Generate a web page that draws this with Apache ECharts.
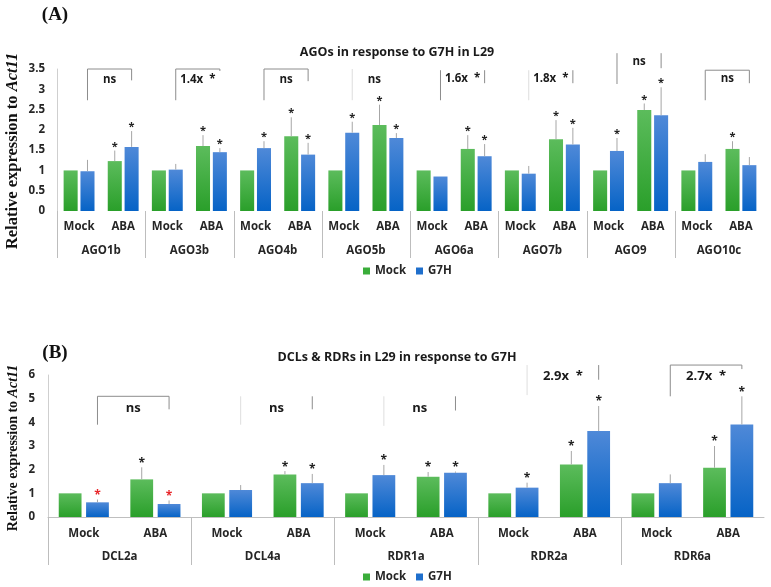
<!DOCTYPE html>
<html><head><meta charset="utf-8">
<script src="https://cdn.jsdelivr.net/npm/echarts@6/dist/echarts.min.js"></script>
<style>html,body{margin:0;padding:0;background:#fff}#c{width:771px;height:587px}</style>
</head><body><div id="c"></div>
<script>
// ---------- data ----------
const treatments = ['Mock', 'ABA'];
const genesA = ['AGO1b','AGO3b','AGO4b','AGO5b','AGO6a','AGO7b','AGO9','AGO10c'];
const mockA    = [1.00,1.23, 1.00,1.60, 1.00,1.84, 1.00,2.12, 1.00,1.53, 1.00,1.77, 1.00,2.49, 1.00,1.53];
const g7hA     = [0.98,1.58, 1.02,1.45, 1.55,1.39, 1.93,1.80, 0.85,1.35, 0.92,1.64, 1.48,2.36, 1.21,1.13];
const mockErrTopA = [1.00,1.49, 1.00,1.87, 1.00,2.31, 1.00,2.62, 1.00,1.87, 1.00,2.24, 1.00,2.65, 1.00,1.72];
const g7hErrTopA  = [1.26,1.97, 1.16,1.55, 1.72,1.68, 2.20,1.92, 0.85,1.65, 1.11,2.05, 1.80,3.05, 1.40,1.33];
const mockStarA = [0,1, 0,1, 0,1, 0,1, 0,1, 0,1, 0,1, 0,1];
const g7hStarA  = [0,1, 0,1, 1,1, 1,1, 0,1, 0,1, 1,1, 0,0];
// brackets: [startCat, endCat, top, leftLegBottom, rightLegBottom, hasTopLine, labelY]
const bracketsA = [
  [0,1, 3.50, 2.73, 3.22, 1, 3.23],
  [2,3, 3.50, 2.73, 3.45, 1, 3.23],
  [4,5, 3.50, 2.73, 3.20, 1, 3.23],
  [6,7, 3.50, 2.73, 3.50, 0, 3.23],
  [8,9, 3.47, 2.73, 3.15, 0, 3.25],
  [10,11, 3.47, 2.73, 3.15, 0, 3.25],
  [12,13, 3.89, 3.13, 3.52, 0, 3.67],
  [14,15, 3.47, 2.73, 3.15, 1, 3.25]
];
const bracketLabelsA = ['ns','1.4x  *','ns','ns','1.6x  *','1.8x  *','ns','ns'];

const genesB = ['DCL2a','DCL4a','RDR1a','RDR2a','RDR6a'];
const mockB    = [1.00,1.59, 1.00,1.80, 1.00,1.70, 1.00,2.22, 1.00,2.08];
const g7hB     = [0.62,0.55, 1.14,1.43, 1.77,1.87, 1.24,3.63, 1.43,3.91];
const mockErrTopB = [1.00,2.10, 1.00,1.94, 1.00,1.90, 1.00,2.79, 1.00,3.00];
const g7hErrTopB  = [0.74,0.70, 1.35,1.82, 2.20,1.92, 1.45,4.69, 1.80,5.10];
const mockStarB = [0,1, 0,1, 0,1, 0,1, 0,1];
const g7hStarB  = [2,2, 0,1, 1,1, 1,1, 0,1];   // 2 = red star
const bracketsB = [
  [0,1, 5.10, 3.90, 4.55, 1, 4.60],
  [2,3, 5.10, 3.90, 4.55, 0, 4.60],
  [4,5, 5.10, 3.85, 4.50, 0, 4.60],
  [6,7, 6.42, 5.15, 5.80, 0, 5.96],
  [8,9, 6.42, 5.10, 6.25, 1, 5.96]
];
const bracketLabelsB = ['ns','ns','ns','2.9x  *','2.7x  *'];

// ---------- styling helpers ----------
const SANS = 'Open Sans';
const SERIF = 'Liberation Serif';
const faintLegA = {3:true, 5:true};
const faintLegB = {1:true, 2:true, 3:true};
const greenGrad = {type:'linear',x:0,y:0,x2:0,y2:1,colorStops:[{offset:0,color:'#5cbc5c'},{offset:1,color:'#2a9f2a'}]};
const blueGrad  = {type:'linear',x:0,y:0,x2:0,y2:1,colorStops:[{offset:0,color:'#4f89d8'},{offset:1,color:'#0663c6'}]};

function cats(genes){ const out=[]; genes.forEach(()=>treatments.forEach(t=>out.push(t))); return out; }
function barOff(api, side){ const B = api.size([1,0])[0]; const w = 0.7*B/2.2; return side*0.6*w; }

function errData(vals, tops, stars, side){
  return vals.map((v,i)=>[i, v, tops[i], stars[i], side]);
}
function errRender(starSize){
  return function(params, api){
    const idx = api.value(0), v = api.value(1), t = api.value(2), st = api.value(3), side = api.value(4);
    const p0 = api.coord([idx, v]), p1 = api.coord([idx, t]);
    const x = p0[0] + barOff(api, side);
    const ch = [];
    if (t > v + 1e-6) ch.push({type:'line', shape:{x1:x,y1:p0[1],x2:x,y2:p1[1]}, style:{stroke:'#a6a6a6', lineWidth:1}});
    if (st) ch.push({type:'text', x:x, y:p1[1]-4, style:{text:'*', fill: st===2?'#e8262a':'#222', font:'bold '+starSize+'px '+SANS, align:'center', verticalAlign:'middle'}});
    return {type:'group', children:ch};
  };
}
function bracketRender(labels, faint, fontSize){
  return function(params, api){
    const s = api.value(0), e = api.value(1), top = api.value(2), lb = api.value(3), rb = api.value(4), tl = api.value(5), ly = api.value(6);
    const xs = api.coord([s, top])[0] + barOff(api, 1);
    const xe = api.coord([e, top])[0] + barOff(api, 1);
    const yT = api.coord([s, top])[1], yL = api.coord([s, lb])[1], yR = api.coord([s, rb])[1], yLab = api.coord([s, ly])[1];
    const dark = '#8c8c8c', light = '#dedede';
    const ch = [];
    ch.push({type:'line', shape:{x1:xs,y1:yT,x2:xs,y2:yL}, style:{stroke: faint[params.dataIndex]?light:dark, lineWidth:1}});
    if (tl) ch.push({type:'line', shape:{x1:xs,y1:yT,x2:xe,y2:yT}, style:{stroke:dark, lineWidth:1}});
    if (yR > yT + 0.5) ch.push({type:'line', shape:{x1:xe,y1:yT,x2:xe,y2:yR}, style:{stroke:dark, lineWidth:1}});
    ch.push({type:'text', x:(xs+xe)/2, y:yLab, style:{text:labels[params.dataIndex], fill:'#1a1a1a', font:'bold '+fontSize+'px '+SANS, align:'center', verticalAlign:'middle'}});
    return {type:'group', children:ch};
  };
}
// gene separators: a line at the left boundary of each gene group, running below the axis
function sepRender(len){
  return function(params, api){
    const B = api.size([1,0])[0];
    const p = api.coord([api.value(0), 0]);
    const x = Math.round(p[0] - B/2) + 0.5;
    return {type:'line', shape:{x1:x, y1:p[1], x2:x, y2:p[1]+len}, style:{stroke:'#bdbdbd', lineWidth:1}};
  };
}

const lblFont = {fontFamily:SANS, fontWeight:'bold', fontSize:11.5, color:'#262626'};

const chart = echarts.init(document.getElementById('c'), null, {renderer:'canvas'});
chart.setOption({
  animation:false,
  backgroundColor:'#fff',
  grid:[
    {left:57, right:8, top:69, height:142},
    {left:48, right:7, top:375, height:142}
  ],
  xAxis:[
    {gridIndex:0, type:'category', data:cats(genesA), axisLine:{show:false}, axisTick:{show:false},
     axisLabel:Object.assign({interval:0, margin:10}, lblFont)},
    {gridIndex:0, type:'category', data:genesA, position:'bottom', axisLine:{show:false},
     axisTick:{show:false}, axisLabel:Object.assign({interval:0, margin:34}, lblFont)},
    {gridIndex:1, type:'category', data:cats(genesB), axisLine:{show:true, lineStyle:{color:'#bfbfbf'}}, axisTick:{show:false},
     axisLabel:Object.assign({interval:0, margin:11}, lblFont)},
    {gridIndex:1, type:'category', data:genesB, position:'bottom', axisLine:{show:false},
     axisTick:{show:false}, axisLabel:Object.assign({interval:0, margin:34}, lblFont)}
  ],
  yAxis:[
    {gridIndex:0, type:'value', min:0, max:3.5, interval:0.5, axisLine:{show:true, lineStyle:{color:'#cfcfcf'}},
     axisTick:{show:false}, splitLine:{show:false}, axisLabel:Object.assign({margin:12}, lblFont)},
    {gridIndex:1, type:'value', min:0, max:6, interval:1, axisLine:{show:true, lineStyle:{color:'#cfcfcf'}},
     axisTick:{show:false}, splitLine:{show:false}, axisLabel:Object.assign({margin:13}, lblFont)}
  ],
  legend:[
    {left:358, top:260, itemWidth:7, itemHeight:7, itemGap:10, icon:'rect', textStyle:lblFont,
     data:[{name:'Mock', itemStyle:{color:'#3aad3a'}},{name:'G7H', itemStyle:{color:'#1f6fcc'}}]},
    {left:358, top:566, itemWidth:7, itemHeight:7, itemGap:10, icon:'rect', textStyle:lblFont,
     data:[{name:'Mock', itemStyle:{color:'#3aad3a'}},{name:'G7H', itemStyle:{color:'#1f6fcc'}}]}
  ],
  series:[
    {name:'Mock', type:'bar', xAxisIndex:0, yAxisIndex:0, data:mockA, barCategoryGap:'30%', barGap:'20%', itemStyle:{color:greenGrad}, silent:true},
    {name:'G7H', type:'bar', xAxisIndex:0, yAxisIndex:0, data:g7hA, barCategoryGap:'30%', barGap:'20%', itemStyle:{color:blueGrad}, silent:true},
    {type:'custom', xAxisIndex:0, yAxisIndex:0, data:errData(mockA, mockErrTopA, mockStarA, -1), renderItem:errRender(11), silent:true, z:5},
    {type:'custom', xAxisIndex:0, yAxisIndex:0, data:errData(g7hA, g7hErrTopA, g7hStarA, 1), renderItem:errRender(11), silent:true, z:5},
    {type:'custom', xAxisIndex:0, yAxisIndex:0, data:bracketsA, renderItem:bracketRender(bracketLabelsA, faintLegA, 11.5), silent:true, z:5, clip:false},
    {type:'custom', xAxisIndex:0, yAxisIndex:0, data:genesA.map((g,i)=>[2*i]), renderItem:sepRender(47), silent:true, clip:false},

    {name:'Mock', type:'bar', xAxisIndex:2, yAxisIndex:1, data:mockB, barCategoryGap:'30%', barGap:'20%', itemStyle:{color:greenGrad}, silent:true},
    {name:'G7H', type:'bar', xAxisIndex:2, yAxisIndex:1, data:g7hB, barCategoryGap:'30%', barGap:'20%', itemStyle:{color:blueGrad}, silent:true},
    {type:'custom', xAxisIndex:2, yAxisIndex:1, data:errData(mockB, mockErrTopB, mockStarB, -1), renderItem:errRender(12), silent:true, z:5},
    {type:'custom', xAxisIndex:2, yAxisIndex:1, data:errData(g7hB, g7hErrTopB, g7hStarB, 1), renderItem:errRender(12), silent:true, z:5},
    {type:'custom', xAxisIndex:2, yAxisIndex:1, data:bracketsB, renderItem:bracketRender(bracketLabelsB, faintLegB, 13), silent:true, z:5, clip:false},
    {type:'custom', xAxisIndex:2, yAxisIndex:1, data:genesB.map((g,i)=>[2*i]), renderItem:sepRender(48), silent:true, clip:false}
  ],
  graphic:[
    {type:'text', x:55, y:15, style:{text:'(A)', font:'bold 19px '+SERIF, fill:'#111', align:'center', verticalAlign:'middle'}},
    {type:'text', x:55, y:353, style:{text:'(B)', font:'bold 19px '+SERIF, fill:'#111', align:'center', verticalAlign:'middle'}},
    {type:'text', x:397, y:52, style:{text:'AGOs in response to G7H in L29', font:'bold 12.5px '+SANS, fill:'#1a1a1a', align:'center', verticalAlign:'middle'}},
    {type:'text', x:397, y:357, style:{text:'DCLs & RDRs in L29 in response to G7H', font:'bold 12.5px '+SANS, fill:'#1a1a1a', align:'center', verticalAlign:'middle'}},
    {type:'text', x:13, y:151, rotation:Math.PI/2, style:{text:'{a|Relative expression to }{b|Act11}', align:'center', verticalAlign:'middle',
      rich:{a:{font:'bold 16.5px '+SERIF, fill:'#111'}, b:{font:'italic bold 16.5px '+SERIF, fill:'#111'}}}},
    {type:'text', x:13, y:448, rotation:Math.PI/2, style:{text:'{a|Relative expression to }{b|Act11}', align:'center', verticalAlign:'middle',
      rich:{a:{font:'bold 14px '+SERIF, fill:'#111'}, b:{font:'italic bold 14px '+SERIF, fill:'#111'}}}}
  ]
});
</script>
</body></html>
